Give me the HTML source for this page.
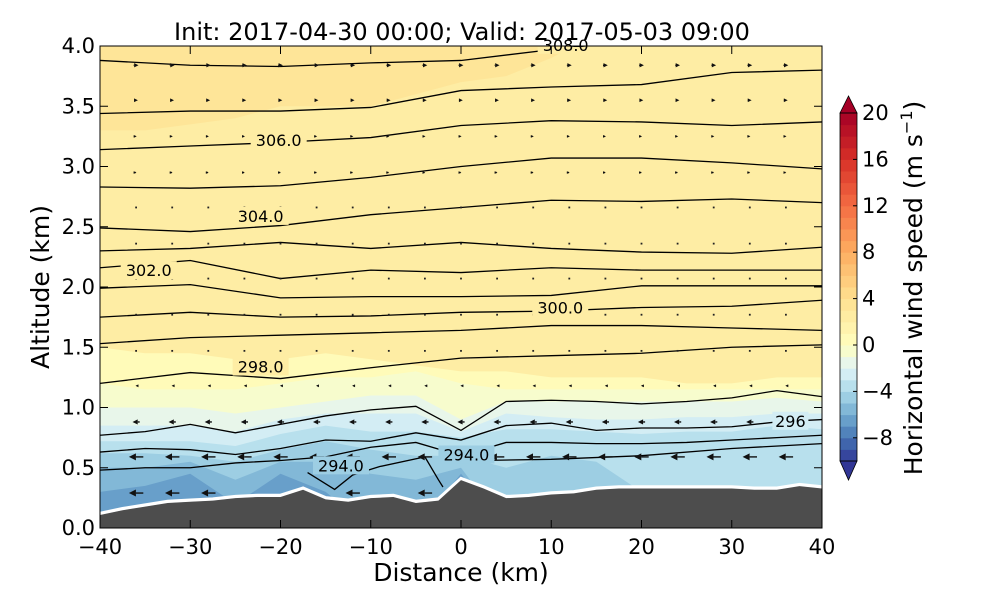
<!DOCTYPE html>
<html><head><meta charset="utf-8"><style>
html,body{margin:0;padding:0;background:#fff}
svg{display:block}
text{font-family:"DejaVu Sans","Liberation Sans",sans-serif;fill:#000}
</style></head><body>
<svg id="fig" width="1000" height="600" viewBox="0 0 1000 600" xmlns="http://www.w3.org/2000/svg">
<defs><clipPath id="plotclip"><rect x="100" y="46" width="722" height="482"/></clipPath></defs>
<g id="field" clip-path="url(#plotclip)"></g>
<g id="lines" clip-path="url(#plotclip)"></g>
<g id="arrows" clip-path="url(#plotclip)"></g>
<g id="terrain" clip-path="url(#plotclip)"></g>
<g id="labels"></g>
<g id="axes"></g>
<g id="cbar"></g>
<text x="462" y="40" font-size="24" text-anchor="middle">Init: 2017-04-30 00:00; Valid: 2017-05-03 09:00</text>
<text x="461" y="581" font-size="25" text-anchor="middle">Distance (km)</text>
<text x="49" y="287" font-size="25" text-anchor="middle" transform="rotate(-90 49 287)">Altitude (km)</text>
<text x="922" y="288" font-size="25" text-anchor="middle" transform="rotate(-90 922 288)">Horizontal wind speed (m s<tspan font-size="16" dy="-10">−1</tspan><tspan dy="10">)</tspan></text>
</svg>
<script>
// ---- data ----
const terrainX=[-40,-37.5,-35,-32.5,-30,-27.5,-25,-22.5,-20,-17.5,-15,-12.5,-10,-7.5,-5,-2.5,0,2.5,5,7.5,10,12.5,15,17.5,20,22.5,25,27.5,30,32.5,35,37.5,40];
const terrainZ=[0.12,0.16,0.19,0.22,0.23,0.24,0.26,0.27,0.27,0.33,0.25,0.23,0.26,0.27,0.22,0.24,0.41,0.34,0.26,0.27,0.29,0.30,0.33,0.34,0.34,0.34,0.34,0.34,0.34,0.33,0.33,0.36,0.34];
const gridX=[-40,-35,-30,-25,-20,-15,-10,-5,0,5,10,15,20,25,30,35,40];
const bandValues=[1,0,-1,-2,-3,-4,-5,-6];
const iso1=[1.5,1.45,1.45,1.4,1.4,1.45,1.4,1.35,1.3,1.3,1.25,1.25,1.25,1.2,1.2,1.25,1.25];
const iso0=[1.2,1.15,1.15,1.15,1.2,1.25,1.25,1.3,1.2,1.15,1.15,1.15,1.15,1.15,1.15,1.15,1.15];
const isoM1=[1.0,1.0,1.0,0.95,1.0,1.05,1.1,1.1,0.9,1.05,1.05,1.05,1.05,1.05,1.05,1.08,1.05];
const isoM2=[0.85,0.85,0.85,0.8,0.9,0.95,0.95,0.95,0.8,0.95,0.92,0.9,0.9,0.92,0.92,0.95,0.95];
const isoM3=[0.72,0.72,0.72,0.68,0.78,0.85,0.8,0.8,0.75,0.82,0.82,0.8,0.78,0.8,0.8,0.85,0.82];
const isoM4=[0.62,0.62,0.6,0.55,0.65,0.72,0.65,0.6,0.6,0.5,0.6,0.55,0.3,0.3,0.3,0.3,0.3];
const isoM5=[0.5,0.5,0.55,0.4,0.55,0.55,0.45,0.4,0.5,0,0,0,0,0,0,0,0];
const isoM6=[0.3,0.35,0.45,0.2,0.45,0.3,0,0,0.45,0,0,0,0,0,0,0,0];
const isoUpper=[3.3,3.3,3.35,3.4,3.5,3.5,3.5,3.6,3.7,3.75,3.9,4.1,4.1,4.1,4.1,4.1,4.1];
const contourX=[-40,-30,-20,-10,0,10,20,30,40];
const thA=[3.88,3.84,3.83,3.86,3.88,3.97,4.05,4.05,4.05];
const thB=[3.44,3.46,3.46,3.49,3.63,3.66,3.68,3.78,3.80];
const thC=[3.14,3.17,3.20,3.24,3.34,3.38,3.37,3.34,3.37];
const thD=[2.83,2.82,2.84,2.91,3.00,3.07,3.07,3.03,2.98];
const thE=[2.49,2.46,2.51,2.60,2.66,2.72,2.71,2.73,2.70];
const thF=[2.30,2.32,2.37,2.32,2.37,2.32,2.29,2.28,2.33];
const thG=[2.16,2.22,2.07,2.14,2.12,2.16,2.14,2.14,2.14];
const thH=[1.99,2.02,1.91,1.92,1.92,1.93,2.01,2.01,2.01];
const thI=[1.75,1.79,1.75,1.76,1.79,1.80,1.83,1.84,1.89];
const thJ=[1.53,1.58,1.60,1.62,1.64,1.68,1.68,1.66,1.64];
const thK=[1.20,1.29,1.24,1.33,1.41,1.43,1.45,1.50,1.52];
const thL1=[0.77,0.80,0.86,0.79,0.86,0.93,0.98,1.01,0.81,1.05,1.06,1.05,1.03,1.05,1.08,1.14,1.09];
const thL2=[0.63,0.66,0.65,0.61,0.66,0.73,0.72,0.79,0.73,0.85,0.87,0.81,0.83,0.83,0.84,0.88,0.90];
const thL3=[0.48,0.50,0.50,0.54,0.56,0.59,0.67,0.71,0.60,0.71,0.71,0.70,0.70,0.71,0.73,0.75,0.77];
const th294X=[-17,-14,-12,-9,-4,-2.5,-2];
const th294Z=[0.46,0.32,0.44,0.51,0.59,0.40,0.34];
const th294bX=[2,10,20,30,40];
const th294bZ=[0.56,0.57,0.60,0.66,0.70];
const labelText=["308.0","306.0","304.0","302.0","300.0","298.0","294.0","294.0","296"];
const labelX=[11.6,-20.2,-22.2,-34.6,11.0,-22.2,-13.3,0.6,36.5];
const labelZ=[4.01,3.22,2.59,2.14,1.83,1.34,0.52,0.61,0.89];
const windColsX=[-36,-32,-28,-24,-20,-16,-12,-8,-4,0,4,8,12,16,20,24,28,32,36];
const windRowZ=[0.29,0.59,0.88,1.18,1.47,1.77,2.07,2.36,2.66,2.95,3.25,3.55,3.84];
const windRowU=[-6,-6,-3,-0.5,0,0,0,0.2,0.2,0.3,0.5,1.5,2];
const cbTicks=[-8,-4,0,4,8,12,16,20];
const xTicks=[-40,-30,-20,-10,0,10,20,30,40];
const yTicks=[0,0.5,1,1.5,2,2.5,3,3.5,4];

// ---- scales ----
const X0=100,X1=822,Y0=528,Y1=46;
const sx=x=>X0+(x+40)/80*(X1-X0);
const sy=z=>Y0-z/4*(Y0-Y1);
const NS="http://www.w3.org/2000/svg";
function mk(tag,attrs,parent){const e=document.createElementNS(NS,tag);for(const k in attrs)e.setAttribute(k,attrs[k]);parent.appendChild(e);return e;}
const anchors=[[0,[49,54,149]],[0.1,[69,117,180]],[0.2,[116,173,209]],[0.3,[171,217,233]],[0.4,[224,243,248]],[0.5,[255,255,191]],[0.6,[254,224,144]],[0.7,[253,174,97]],[0.8,[244,109,67]],[0.9,[215,48,39]],[1,[165,0,38]]];
function cmap(v){let t=v<0?0.5+v/20:0.5+v/40;t=Math.max(0,Math.min(1,t));
 for(let i=0;i<anchors.length-1;i++){const a=anchors[i],b=anchors[i+1];if(t<=b[0]){const f=(t-a[0])/(b[0]-a[0]);const c=a[1].map((q,j)=>Math.round(q+(b[1][j]-q)*f));return `rgb(${c})`;}}
 return 'rgb(165,0,38)';}

// ---- field ----
const field=document.getElementById('field');
let r=mk('rect',{x:100,y:46,width:722,height:482,fill:cmap(2.3)},field);


let up=mk('path',{d:'M100,40 '+gridX.map((x,i)=>`L${sx(x)},${sy(isoUpper[i])}`).join(' ')+' L822,40 Z',fill:cmap(3.3)},field);


const isoList=[iso1,iso0,isoM1,isoM2,isoM3,isoM4,isoM5,isoM6];
isoList.forEach((iso,k)=>{
 const v=bandValues[k]-0.5;
 const d='M'+gridX.map((x,i)=>`${sx(x)},${sy(iso[i])}`).join(' L')+` L822,530 L100,530 Z`;
 const p=mk('path',{d:d,fill:cmap(v)},field);
 
 
});

// ---- contours ----
const lines=document.getElementById('lines');
function poly(xs,zs,name){const p=mk('polyline',{points:xs.map((x,i)=>`${sx(x)},${sy(zs[i])}`).join(' '),fill:'none',stroke:'#000','stroke-width':1.3},lines);
 
 }
[thA,thB,thC,thD,thE,thF,thG,thH,thI,thJ,thK].forEach((a,i)=>poly(contourX,a,'theta-contour-'+i));
[thL1,thL2,thL3].forEach((a,i)=>poly(gridX,a,'theta-contour-low-'+i));
poly(th294X,th294Z,'theta-contour-294a');
poly(th294bX,th294bZ,'theta-contour-294b');

// ---- arrows ----
const arrows=document.getElementById('arrows');
function terrainAt(x){for(let i=0;i<terrainX.length-1;i++){if(x<=terrainX[i+1]){const f=(x-terrainX[i])/(terrainX[i+1]-terrainX[i]);return terrainZ[i]+f*(terrainZ[i+1]-terrainZ[i]);}}return terrainZ[terrainZ.length-1];}
windRowZ.forEach((z,ri)=>{const u=windRowU[ri];
 windColsX.forEach(x=>{ if(z<terrainAt(x)+0.03)return;
  const cx=sx(x),cy=sy(z);const L=u*2.4;
  if(Math.abs(u)<0.3){const d=mk('rect',{x:cx-0.9,y:cy-0.9,width:1.8,height:1.8,fill:'#222'},arrows);
   
   return;}
  const dir=Math.sign(u);const hl=Math.min(7,2.5+Math.abs(u)*0.9),hw=Math.min(3.5,1.2+Math.abs(u)*0.45);
  const g=mk('g',{},arrows);
  
  
  const tipx=cx+L/2,tailx=cx-L/2;
  mk('line',{x1:tailx,y1:cy,x2:tipx-dir*hl,y2:cy,stroke:'#111','stroke-width':1.4},g);
  mk('polygon',{points:`${tipx},${cy} ${tipx-dir*hl},${cy-hw} ${tipx-dir*hl},${cy+hw}`,fill:'#111'},g);
 });});

// ---- terrain ----
const ter=document.getElementById('terrain');
const tpts=terrainX.map((x,i)=>`${sx(x)},${sy(terrainZ[i])}`).join(' L');
const tw=mk('path',{d:'M'+tpts,fill:'none',stroke:'#fff','stroke-width':3.5},ter);


const tf=mk('path',{d:'M'+terrainX.map((x,i)=>`${sx(x)},${sy(terrainZ[i])+1.5}`).join(' L')+' L822,530 L100,530 Z',fill:'#4d4d4d'},ter);



// ---- contour labels ----
const labs=document.getElementById('labels');
labelText.forEach((t,i)=>{const x=sx(labelX[i]),y=sy(labelZ[i]);
 const g=mk('g',{},labs);
 
 
 const w=t.length*10+6;
 const bg=labelZ[i]<1.0?(labelZ[i]<0.7?cmap(-4.5):cmap(-2.5)):cmap(2.3);
 mk('rect',{x:x-w/2,y:Math.max(47,y-9),width:w,height:Math.min(18,y+9-47),fill:bg},g);
 const tx=mk('text',{x:x,y:y+6,'font-size':16,'text-anchor':'middle'},g);tx.textContent=t;});

// ---- axes ----
const ax=document.getElementById('axes');
mk('rect',{x:100,y:46,width:722,height:482,fill:'none',stroke:'#000','stroke-width':1},ax);
xTicks.forEach(v=>{const x=sx(v);
 mk('line',{x1:x,y1:528,x2:x,y2:520,stroke:'#000'},ax);mk('line',{x1:x,y1:46,x2:x,y2:54,stroke:'#000'},ax);
 const t=mk('text',{x:x,y:554,'font-size':21,'text-anchor':'middle'},ax);
 
 
 t.textContent=(v<0?'−':'')+Math.abs(v);});
yTicks.forEach(v=>{const y=sy(v);
 mk('line',{x1:100,y1:y,x2:108,y2:y,stroke:'#000'},ax);mk('line',{x1:822,y1:y,x2:814,y2:y,stroke:'#000'},ax);
 const t=mk('text',{x:95,y:y+7,'font-size':21,'text-anchor':'end'},ax);
 
 
 t.textContent=v.toFixed(1);});

// ---- colorbar ----
const cb=document.getElementById('cbar');
const cbTop=113,cbBot=461,cx0=840,cw=17;
const cy=v=>cbBot-(v+10)/30*(cbBot-cbTop);
for(let v=-10;v<20;v++){const b=mk('rect',{x:cx0,y:cy(v+1),width:cw,height:cy(v)-cy(v+1)+0.5,fill:cmap(v+0.5)},cb);
 
 }
mk('polygon',{points:`${cx0},${cbTop} ${cx0+cw/2},96 ${cx0+cw},${cbTop}`,fill:cmap(21),stroke:'#000','stroke-width':0.8},cb);
mk('polygon',{points:`${cx0},${cbBot} ${cx0+cw/2},480 ${cx0+cw},${cbBot}`,fill:cmap(-11),stroke:'#000','stroke-width':0.8},cb);
mk('rect',{x:cx0,y:cbTop,width:cw,height:cbBot-cbTop,fill:'none',stroke:'#000','stroke-width':0.8},cb);
cbTicks.forEach(v=>{const y=cy(v);
 mk('line',{x1:cx0+cw-4,y1:y,x2:cx0+cw,y2:y,stroke:'#000'},cb);
 const t=mk('text',{x:862,y:y+7,'font-size':21},cb);
 
 
 t.textContent=(v<0?'−':'')+Math.abs(v);});
</script>
</body></html>
